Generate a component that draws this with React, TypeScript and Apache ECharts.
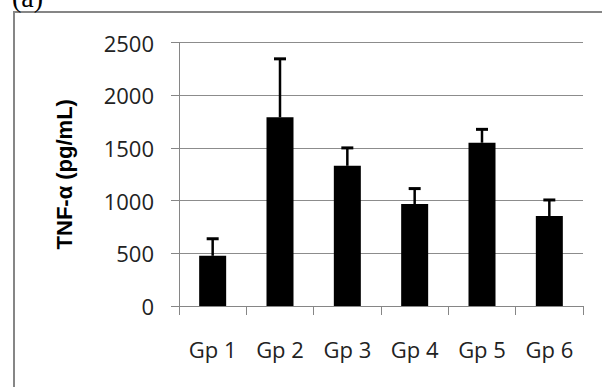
import React, { useEffect, useRef } from "react";
import * as echarts from "echarts";

const categories = ["Gp 1", "Gp 2", "Gp 3", "Gp 4", "Gp 5", "Gp 6"];
const means = [476, 1790, 1330, 968, 1549, 854];
const upperErrors = [638, 2345, 1500, 1114, 1676, 1006];
const yTicks = { min: 0, max: 2500, interval: 500 };
const yAxisTitle = "TNF-α (pg/mL)";
const panelLabel = "(a)";

export default function App() {
  const ref = useRef<HTMLDivElement>(null);
  useEffect(() => {
    if (!ref.current) return;
    const chart = echarts.init(ref.current, null, { renderer: "svg" });
    const errData = categories.map((_, i) => [i, means[i], upperErrors[i]]);
    chart.setOption({
      animation: false,
      backgroundColor: "#ffffff",
      graphic: [
        {
          type: "rect",
          shape: { x: 14, y: 12, width: 620, height: 420 },
          style: { fill: "none", stroke: "#868686", lineWidth: 2 },
          silent: true,
        },
        {
          type: "text",
          x: 12,
          y: 11,
          style: {
            text: panelLabel,
            fontFamily: "Liberation Serif",
            fontSize: 28,
            fill: "#000",
            verticalAlign: "bottom",
          },
        },
      ],
      grid: { left: 179, right: 19, top: 42.5, bottom: 81, containLabel: false },
      xAxis: {
        type: "category",
        data: categories,
        axisLine: { lineStyle: { color: "#868686", width: 1 } },
        axisTick: { show: true, length: 9, lineStyle: { color: "#868686" } },
        axisLabel: {
          margin: 32,
          color: "#222",
          fontFamily: "Open Sans",
          fontSize: 22,
        },
        splitLine: { show: false },
      },
      yAxis: {
        type: "value",
        min: yTicks.min,
        max: yTicks.max,
        interval: yTicks.interval,
        name: yAxisTitle,
        nameLocation: "middle",
        nameGap: 104,
        nameTextStyle: {
          fontFamily: "Liberation Sans",
          fontWeight: "bold",
          fontSize: 22,
          color: "#000",
        },
        axisLine: { show: true, lineStyle: { color: "#868686", width: 1 } },
        axisTick: { show: true, length: 8, lineStyle: { color: "#868686" } },
        axisLabel: {
          margin: 25,
          color: "#222",
          fontFamily: "Open Sans",
          fontSize: 22,
          formatter: (v: number) => String(v),
        },
        splitLine: { show: true, lineStyle: { color: "#8c8c8c", width: 1 } },
      },
      series: [
        {
          type: "bar",
          data: means,
          barWidth: 27,
          itemStyle: { color: "#000000" },
        },
        {
          type: "custom",
          data: errData,
          z: 3,
          renderItem: (params: any, api: any) => {
            const i = api.value(0);
            const top = api.coord([i, api.value(2)]);
            const base = api.coord([i, api.value(1)]);
            const capHalf = 6;
            return {
              type: "group",
              children: [
                {
                  type: "line",
                  shape: { x1: base[0], y1: base[1], x2: top[0], y2: top[1] },
                  style: { stroke: "#000", lineWidth: 2.5 },
                },
                {
                  type: "line",
                  shape: { x1: top[0] - capHalf, y1: top[1], x2: top[0] + capHalf, y2: top[1] },
                  style: { stroke: "#000", lineWidth: 3 },
                },
              ],
            };
          },
        },
      ],
    });
    return () => chart.dispose();
  }, []);
  return (
    <div
      ref={ref}
      style={{ position: "absolute", left: 0, top: 0, width: 602, height: 387 }}
    />
  );
}
